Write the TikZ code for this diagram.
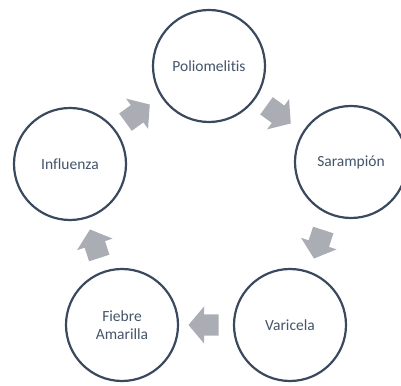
\documentclass[tikz,border=0pt]{standalone}
\usepackage{fontspec}
\setmainfont[Ligatures=NoCommon]{Carlito}
\usetikzlibrary{shapes.arrows,calc}

\definecolor{ringblue}{RGB}{59,73,94}
\definecolor{labelblue}{RGB}{68,84,106}
\definecolor{arrowgray}{RGB}{170,173,180}

\tikzset{
	disease/.style={circle, draw=ringblue, line width=2.2pt, fill=white,
		minimum size=112pt, inner sep=0pt, align=center,
		font=\fontsize{15.5}{18.5}\selectfont, text=labelblue},
	cyclearrow/.style={single arrow, fill=arrowgray, draw=none,
		inner xsep=0pt, inner ysep=10.5pt, minimum height=30pt,
		single arrow head extend=8pt, single arrow tip angle=100}
}

\begin{document}
\begin{tikzpicture}[x=1pt,y=1pt]
	\useasboundingbox (0,0) rectangle (401,385);
	\node[disease] (polio) at (209,319) {Poliomelitis};
	\node[disease] (saram) at (351,223) {Sarampión};
	\node[disease] (vari) at (290,60) {Varicela};
	\node[disease] (fiebre) at (122,60) {Fiebre\\Amarilla};
	\node[disease] (influ) at (70,221) {Influenza};
	\node[cyclearrow, rotate=-36] (a1) at (275,273) {};
	\node[cyclearrow, rotate=-108] (a2) at (320,145) {};
	\node[cyclearrow, rotate=180] (a3) at (208,60) {};
	\node[cyclearrow, rotate=108] (a4) at (96,137) {};
	\node[cyclearrow, rotate=36] (a5) at (134,269) {};
\end{tikzpicture}
\end{document}
